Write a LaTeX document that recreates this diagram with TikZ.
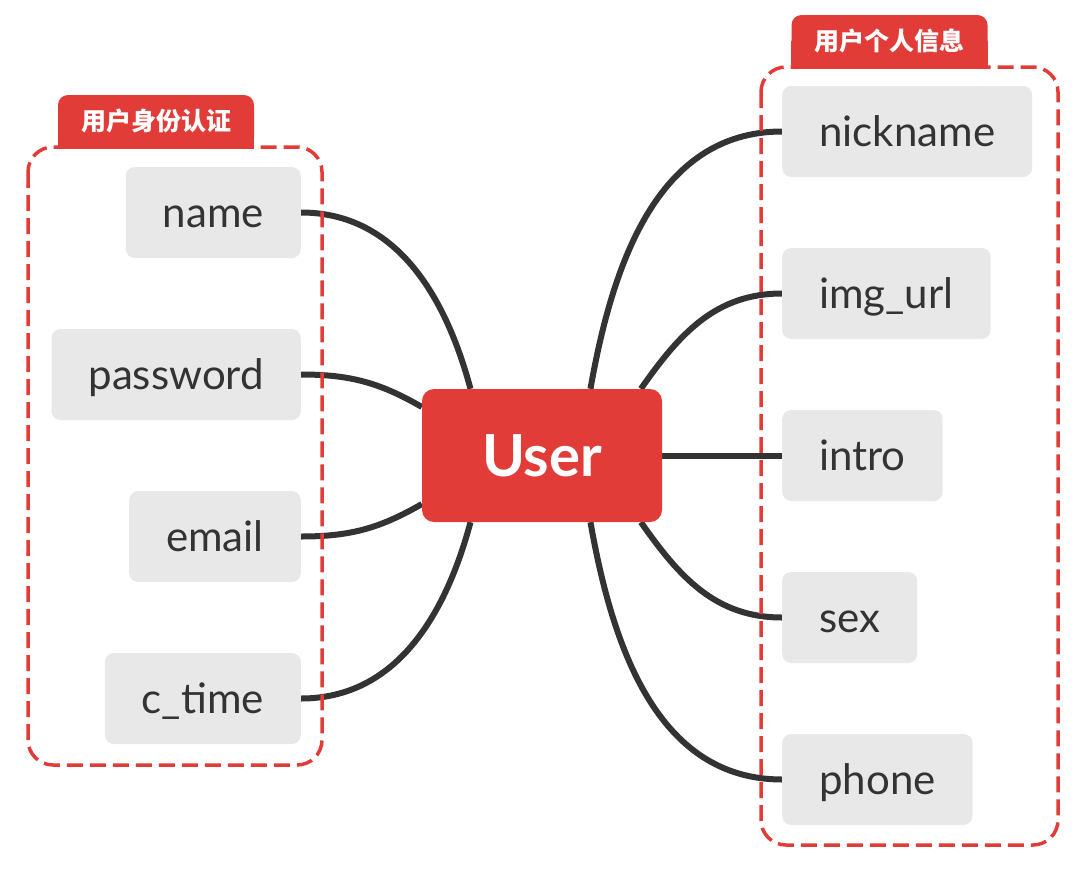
\documentclass[tikz,border=0pt]{standalone}
\usepackage{fontspec}
\setmainfont{Lato}
\newfontfamily\cjk{Noto Sans CJK SC}
\usetikzlibrary{backgrounds}
\definecolor{mindred}{HTML}{E23C39}
\definecolor{fieldgray}{HTML}{E8E8E8}
\definecolor{inkgray}{HTML}{333333}
\tikzstyle{field}=[rectangle, rounded corners=9pt, fill=fieldgray, text=inkgray, font=\fontsize{42}{44}\selectfont, minimum height=91pt, inner xsep=37pt, inner ysep=0pt, text height=33pt, text depth=3pt]
\tikzstyle{left field}=[field, anchor=east]
\tikzstyle{right field}=[field, anchor=west]
\tikzstyle{root}=[rectangle, rounded corners=12pt, fill=mindred, text=white, font=\bfseries\fontsize{58}{62}\selectfont, minimum width=240pt, minimum height=133pt, inner sep=0pt]
\tikzstyle{group tag}=[rectangle, rounded corners=10pt, fill=mindred, text=white, font=\cjk\bfseries\fontsize{25}{27}\selectfont, minimum width=196pt, minimum height=52pt, inner sep=0pt]
\tikzstyle{group box}=[draw=mindred, line width=3.5pt, rounded corners=25pt, dash pattern=on 16pt off 7pt]
\tikzstyle{link}=[draw=inkgray, line width=6pt]

\begin{document}
\begin{tikzpicture}[x=1pt, y=1pt]
		\useasboundingbox (0,0) rectangle (1082,-868);
		% Draw the central node
		\node[root] (user) at (542,-455.5) {User};
		% Draw the left fields
		\foreach \name/\txt/\y in {name/name/212.5, password/password/374.5, email/email/536.5, ctime/c\_time/698.5}
		\node[left field] (F-\name) at (301,-\y) {\txt};
		% Draw the right fields
		\foreach \name/\txt/\y in {nickname/nickname/131.5, imgurl/img\_url/293.5, intro/intro/455.5, sex/sex/617.5, phone/phone/779.5}
		\node[right field] (F-\name) at (782,-\y) {\txt};
		% Group tags
		\node[group tag] (authTag) at (156,-121) {用户身份认证};
		\node[group tag] (infoTag) at (889.5,-41) {用户个人信息};
		\begin{pgfonlayer}{background}
			\fill[mindred] (authTag.west) rectangle ([yshift=-1.75pt]authTag.south east);
			\fill[mindred] (infoTag.west) rectangle ([yshift=-1.75pt]infoTag.south east);
			% Connect every field with the central node
			\foreach \source/\ang/\inang in {name/137/105, password/158/150, email/202/210, ctime/223/255}
			\path[link] (F-\source.east) to[out=0, in=\inang] (user.\ang);
			\foreach \source/\ang/\inang in {nickname/54/80, imgurl/34/55, intro/0/0, sex/-34/-55, phone/-54/-80}
			\path[link] (F-\source.west) to[out=180, in=\inang] (user.\ang);
		\end{pgfonlayer}
		% Dashed group boxes
		\draw[group box] (28,-147) rectangle (322,-765);
		\draw[group box] (761,-67) rectangle (1058,-845);
	\end{tikzpicture}
\end{document}
